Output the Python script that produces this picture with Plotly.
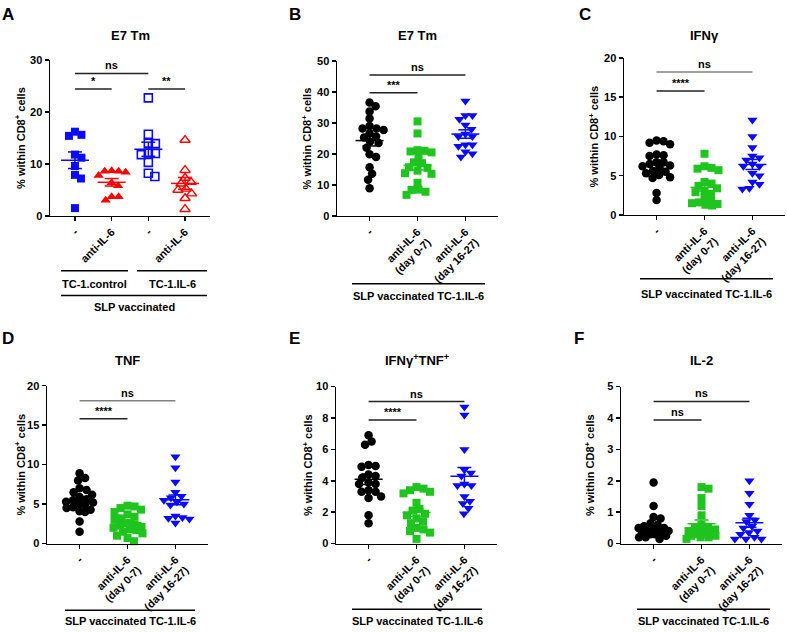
import numpy as np
import plotly.graph_objects as go

W, H = 787, 632

# ---------------- data ----------------
A_labels = ["-", "anti-IL-6", "-", "anti-IL-6"]
A_ctrl_none = [15.4, 15.6, 16.2, 11.8, 11.2, 9.6, 7.9, 7.2, 1.5]
A_ctrl_anti = [8.4, 8.6, 8.6, 8.7, 7.8, 6.4, 5.8, 3.0, 3.7, 3.7]
A_il6_none = [22.7, 15.7, 14.0, 13.9, 12.1, 12.0, 11.8, 10.3, 8.2, 7.6]
A_il6_anti = [14.6, 8.8, 7.3, 6.5, 6.2, 5.2, 5.0, 4.3, 3.4, 1.3]

BF_labels = ["-", "anti-IL-6<br>(day 0-7)", "anti-IL-6<br>(day 16-27)"]

B_none = [36.6, 35.4, 33.7, 31.4, 29.0, 28.2, 28.2, 27.7, 26.7, 25.6, 25.3, 24.0,
          23.5, 22.0, 19.9, 19.0, 15.7, 13.6, 11.7, 8.9]
B_early = [30.5, 26.6, 21.0, 21.2, 20.8, 20.5, 19.0, 17.3, 17.0, 15.7, 15.5, 14.6,
           13.8, 13.6, 10.7, 8.5, 8.4, 7.8, 6.8]
B_late = [37.1, 32.4, 32.4, 31.2, 29.3, 28.0, 26.4, 25.6, 25.6, 23.0, 23.0, 22.5,
          20.7, 20.1, 19.0]

C_none = [9.5, 9.4, 9.2, 9.0, 7.7, 7.6, 7.5, 6.7, 6.7, 6.5, 6.3, 6.2, 6.0, 5.6,
          5.5, 5.3, 5.1, 4.8, 4.7, 2.8, 1.9]
C_early = [7.8, 6.2, 6.0, 5.9, 5.7, 4.2, 4.0, 3.7, 3.4, 3.1, 2.9, 2.7, 2.2, 1.8,
           1.6, 1.5, 1.4, 1.3, 1.2]
C_late = [12.1, 10.0, 8.6, 7.5, 7.3, 7.0, 6.5, 6.2, 6.2, 5.3, 5.0, 4.2, 3.9, 3.4, 3.3]

D_none = [8.9, 8.3, 8.0, 7.0, 6.8, 6.5, 6.2, 5.9, 5.6, 5.5, 5.3, 5.2, 5.0, 4.9,
          4.6, 4.5, 4.3, 4.1, 4.0, 2.8, 1.5]
D_early = [4.8, 4.7, 4.5, 4.3, 4.0, 3.7, 3.4, 3.2, 3.0, 2.6, 2.4, 2.3, 2.1, 2.0,
           1.8, 1.7, 1.5, 1.3, 1.0, 0.7, 0.3]
D_late = [11.0, 9.6, 7.8, 6.5, 6.0, 5.8, 5.5, 5.3, 5.0, 4.9, 3.5, 3.3, 3.2, 3.1, 2.6]

E_none = [6.9, 6.5, 6.3, 5.0, 4.95, 4.9, 4.4, 4.3, 4.2, 3.9, 3.8, 3.8, 3.4, 3.3,
          3.3, 3.0, 2.9, 1.8, 1.3]
E_early = [3.6, 3.5, 3.4, 3.3, 3.2, 2.6, 2.2, 2.1, 1.9, 1.8, 1.6, 1.4, 1.3, 1.0,
           0.9, 0.8, 0.7, 0.3]
E_late = [8.7, 8.2, 6.0, 4.7, 4.5, 4.3, 3.8, 3.7, 3.7, 3.0, 2.7, 2.55, 2.25, 1.9]

F_none = [1.95, 1.2, 0.85, 0.8, 0.65, 0.6, 0.55, 0.5, 0.5, 0.45, 0.45, 0.4, 0.4,
          0.35, 0.35, 0.3, 0.3, 0.25, 0.2, 0.2, 0.15]
F_early = [1.8, 1.75, 1.45, 1.2, 0.9, 0.6, 0.5, 0.5, 0.45, 0.4, 0.4, 0.35, 0.3,
           0.3, 0.25, 0.25, 0.2, 0.2, 0.15]
F_late = [2.0, 1.6, 1.25, 0.9, 0.75, 0.7, 0.55, 0.5, 0.4, 0.35, 0.3, 0.2, 0.15,
          0.15, 0.15]

titles = ["E7 Tm", "E7 Tm", "IFNγ", "TNF", "IFNγ<sup>+</sup>TNF<sup>+</sup>", "IL-2"]
y_tops = [30, 50, 20, 20, 10, 5]
y_steps = [10, 10, 5, 5, 2, 1]
sig_A = [(0, 2, 27.4, "ns"), (0, 1, 24.4, "*"), (2, 3, 24.4, "**")]
sig_B = [(0, 2, 45.5, "ns"), (0, 1, 39.7, "***")]
sig_C = [(0, 2, 18.2, "ns"), (0, 1, 15.8, "****")]
sig_D = [(0, 2, 18.1, "ns"), (0, 1, 15.8, "****")]
sig_E = [(0, 2, 9.05, "ns"), (0, 1, 7.87, "****")]
sig_F = [(0, 2, 4.53, "ns"), (0, 1, 3.94, "ns")]

# ---------------- styling ----------------
BLUE = "#0a0aff"
RED = "#ff0000"
GREEN = "#1fc41f"
BLACK = "#000000"
FONT = "Liberation Sans, Arial, sans-serif"

sq = dict(symbol="square", size=8)
sqo = dict(symbol="square-open", size=8, line=dict(width=1.6))
tru = dict(symbol="triangle-up", size=9)
truo = dict(symbol="triangle-up-open", size=9, line=dict(width=1.4))
cir = dict(symbol="circle", size=8.5)
trd = dict(symbol="triangle-down", size=9)

panels = [
    dict(letter="A", xdom=(50, 210), ydom=(214, 55), xr=(-0.68, 3.68), labels=A_labels,
         series=[(A_ctrl_none, BLUE, sq), (A_ctrl_anti, RED, tru),
                 (A_il6_none, BLUE, sqo), (A_il6_anti, RED, truo)],
         sig=sig_A, ns_gray=False, ylab_x=20, letter_x=0),
    dict(letter="B", xdom=(337, 498), ydom=(214, 56), xr=(-0.68, 2.68), labels=BF_labels,
         series=[(B_none, BLACK, cir), (B_early, GREEN, sq), (B_late, BLUE, trd)],
         sig=sig_B, ns_gray=False, ylab_x=307, letter_x=287),
    dict(letter="C", xdom=(624, 785), ydom=(213, 53), xr=(-0.68, 2.68), labels=BF_labels,
         series=[(C_none, BLACK, cir), (C_early, GREEN, sq), (C_late, BLUE, trd)],
         sig=sig_C, ns_gray=True, ylab_x=594, letter_x=577),
    dict(letter="D", xdom=(47, 208), ydom=(548, 387), xr=(-0.68, 2.68), labels=BF_labels,
         series=[(D_none, BLACK, cir), (D_early, GREEN, sq), (D_late, BLUE, trd)],
         sig=sig_D, ns_gray=True, ylab_x=20, letter_x=0),
    dict(letter="E", xdom=(336, 497), ydom=(548, 388), xr=(-0.68, 2.68), labels=BF_labels,
         series=[(E_none, BLACK, cir), (E_early, GREEN, sq), (E_late, BLUE, trd)],
         sig=sig_E, ns_gray=False, ylab_x=308, letter_x=287),
    dict(letter="F", xdom=(621, 782), ydom=(548, 388), xr=(-0.68, 2.68), labels=BF_labels,
         series=[(F_none, BLACK, cir), (F_early, GREEN, sq), (F_late, BLUE, trd)],
         sig=sig_F, ns_gray=False, ylab_x=590, letter_x=572),
]


def px_x(p):
    return p / W


def px_y(p):
    return 1 - p / H


def swarm(vals, ppu_y, diam, maxw):
    """Beeswarm horizontal offsets (pixels), limited to +-maxw."""
    vals = np.asarray(vals, float)
    ys = vals * ppu_y
    order = np.argsort(-vals, kind="stable")
    placed = []
    offs = np.zeros(len(vals))
    cands = [0.0]
    k = 1
    while k * 0.5 <= maxw:
        cands += [k * 0.5, -k * 0.5]
        k += 1
    for i in order:
        best, best_d = 0.0, -1.0
        for c in cands:
            dmin = min([np.hypot(c - px, ys[i] - py) for px, py in placed] or [1e9])
            if dmin >= diam:
                best = c
                break
            if dmin > best_d + 0.3:
                best, best_d = c, dmin
        offs[i] = best
        placed.append((best, ys[i]))
    return offs


fig = go.Figure()
layout = dict(
    width=W, height=H, autosize=False,
    margin=dict(l=0, r=0, t=0, b=0),
    paper_bgcolor="white", plot_bgcolor="white",
    showlegend=False,
    font=dict(family=FONT, size=11, color="black", weight="bold"),
)
annotations = []
shapes = []

for k, p in enumerate(panels):
    idx = "" if k == 0 else str(k + 1)
    xa, ya = "x" + idx, "y" + idx
    x0p, x1p = p["xdom"]
    yb, yt = p["ydom"]
    top = y_tops[k]
    ppu_y = (yb - yt) / top
    ppu_x = (x1p - x0p) / (p["xr"][1] - p["xr"][0])

    for gi, (vals, color, mk) in enumerate(p["series"]):
        offs = swarm(vals, ppu_y, 7.0, 15.0) / ppu_x
        m = dict(mk)
        m["color"] = color
        if "line" in m:
            m["line"] = dict(m["line"], color=color)
        fig.add_trace(go.Scatter(
            x=gi + offs, y=vals, mode="markers", marker=m,
            xaxis=xa, yaxis=ya, cliponaxis=False, hoverinfo="skip"))
        arr = np.asarray(vals, float)
        mean = arr.mean()
        sem = arr.std(ddof=1) / np.sqrt(len(arr))
        hw = 14 / ppu_x
        cw = 7 / ppu_x
        lx = [gi - hw, gi + hw, None, gi - cw, gi + cw, None, gi - cw, gi + cw, None, gi, gi]
        ly = [mean, mean, None, mean + sem, mean + sem, None, mean - sem, mean - sem, None,
              mean - sem, mean + sem]
        fig.add_trace(go.Scatter(
            x=lx, y=ly, mode="lines", line=dict(color=color, width=1.5),
            xaxis=xa, yaxis=ya, cliponaxis=False, hoverinfo="skip"))

    n = len(p["labels"])
    layout["xaxis" + idx] = dict(
        domain=[px_x(x0p), px_x(x1p)], range=list(p["xr"]), anchor=ya,
        tickvals=list(range(n)), ticktext=p["labels"], tickangle=-45,
        showline=True, linecolor="black", linewidth=1.5,
        ticks="outside", ticklen=4, tickwidth=1.5, tickcolor="black",
        showgrid=False, zeroline=False, fixedrange=True,
        tickfont=dict(family=FONT, size=11, weight="bold"))
    layout["yaxis" + idx] = dict(
        domain=[px_y(yb), px_y(yt)], range=[0, top], anchor=xa,
        tickvals=list(range(0, top + 1, y_steps[k])),
        showline=True, linecolor="black", linewidth=1.5,
        ticks="outside", ticklen=4, tickwidth=1.5, tickcolor="black",
        showgrid=False, zeroline=False, fixedrange=True,
        tickfont=dict(family=FONT, size=11, weight="bold"))

    for si, (g0, g1, yv, txt) in enumerate(p["sig"]):
        col = "#808080" if (si == 0 and p["ns_gray"]) else "#222222"
        shapes.append(dict(type="line", xref=xa, yref=ya, x0=g0, x1=g1, y0=yv, y1=yv,
                           line=dict(color=col, width=1.5)))
        annotations.append(dict(text=txt, xref=xa, yref=ya, x=(g0 + g1) / 2, y=yv,
                                xanchor="center", yanchor="bottom", showarrow=False,
                                font=dict(size=11, weight="bold")))

    # title
    row_y = 30 if yb < 300 else 361
    annotations.append(dict(text=titles[k], xref="paper", yref="paper",
                            x=px_x((x0p + x1p) / 2), y=px_y(row_y),
                            xanchor="center", yanchor="middle", showarrow=False,
                            font=dict(size=13, weight="bold")))
    # panel letter
    let_y = 9 if yb < 300 else 339
    annotations.append(dict(text=p["letter"], xref="paper", yref="paper",
                            x=px_x(p["letter_x"]), y=px_y(let_y),
                            xanchor="left", yanchor="middle", showarrow=False,
                            font=dict(size=17, weight="bold")))
    # y label
    annotations.append(dict(text="% within CD8<sup>+</sup> cells", xref="paper", yref="paper",
                            x=px_x(p["ylab_x"]), y=px_y((yb + yt) / 2), textangle=-90,
                            xanchor="center", yanchor="middle", showarrow=False,
                            font=dict(size=11, weight="bold")))


def bracket(x0, x1, yline, ytext, text):
    shapes.append(dict(type="line", xref="paper", yref="paper",
                       x0=px_x(x0), x1=px_x(x1), y0=px_y(yline), y1=px_y(yline),
                       line=dict(color="black", width=1.5)))
    annotations.append(dict(text=text, xref="paper", yref="paper",
                            x=px_x((x0 + x1) / 2), y=px_y(ytext),
                            xanchor="center", yanchor="middle", showarrow=False,
                            font=dict(size=11, weight="bold")))


bracket(61, 128, 270, 283, "TC-1.control")
bracket(137, 207, 270, 283, "TC-1.IL-6")
bracket(61, 207, 295, 307, "SLP vaccinated")
bracket(352, 485, 283, 296, "SLP vaccinated TC-1.IL-6")
bracket(640, 773, 278, 294, "SLP vaccinated TC-1.IL-6")
bracket(65, 195, 616, 627, "SLP vaccinated TC-1.IL-6")
bracket(352, 482, 615, 627, "SLP vaccinated TC-1.IL-6")
bracket(637, 770, 615, 627, "SLP vaccinated TC-1.IL-6")

layout["annotations"] = annotations
layout["shapes"] = shapes
fig.update_layout(**layout)

post = ("document.documentElement.style.margin='0';document.documentElement.style.padding='0';"
        "document.body.style.margin='0';document.body.style.padding='0';"
        "document.body.style.overflow='hidden';")
fig.write_html("out.html", post_script=post,
               config={"displayModeBar": False, "staticPlot": True})
